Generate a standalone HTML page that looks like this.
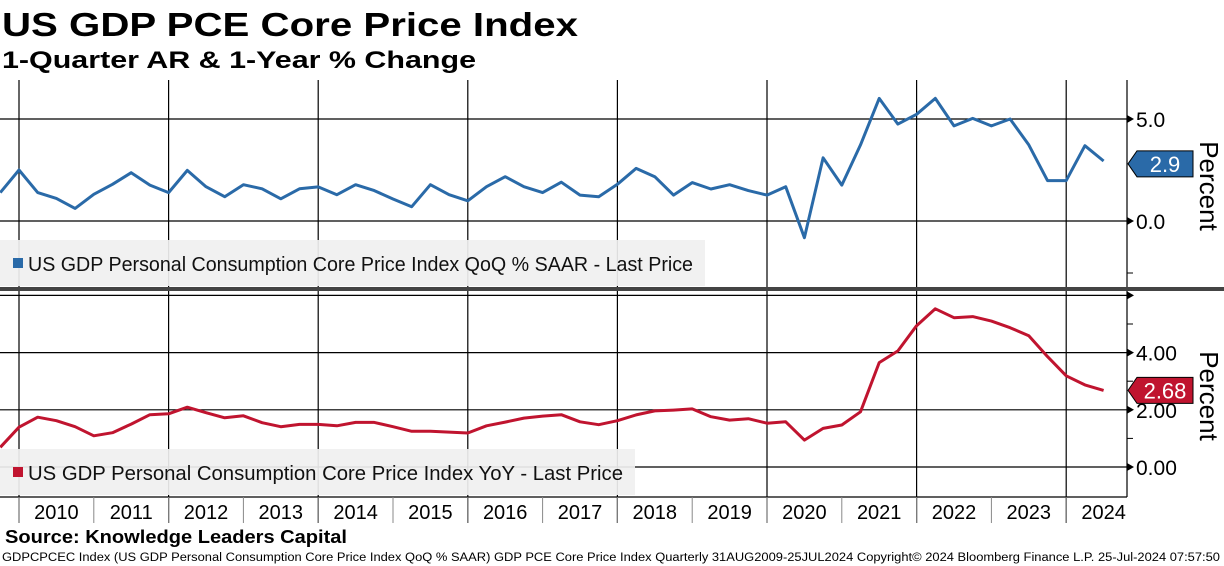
<!DOCTYPE html>
<html><head><meta charset="utf-8"><style>
html,body{margin:0;padding:0;background:#fff;}
svg{display:block;font-family:"Liberation Sans","DejaVu Sans",sans-serif;}
</style></head><body>
<svg id="chart" width="1224" height="566" viewBox="0 0 1224 566" xmlns="http://www.w3.org/2000/svg">
<text x="2" y="36" font-size="33" font-weight="bold" textLength="576" lengthAdjust="spacingAndGlyphs">US GDP PCE Core Price Index</text>
<text x="2" y="68" font-size="24" font-weight="bold" textLength="474" lengthAdjust="spacingAndGlyphs">1-Quarter AR &amp; 1-Year % Change</text>
<g id="grid"></g>
<g id="legends"></g>
<g id="series"></g>
<g id="axes"></g>
<text x="5" y="543" font-size="18" font-weight="bold" textLength="342" lengthAdjust="spacingAndGlyphs">Source: Knowledge Leaders Capital</text>
<text x="2" y="561" font-size="11.5" textLength="1218" lengthAdjust="spacingAndGlyphs">GDPCPCEC Index (US GDP Personal Consumption Core Price Index QoQ % SAAR) GDP PCE Core Price Index  Quarterly 31AUG2009-25JUL2024  Copyright© 2024 Bloomberg Finance L.P.  25-Jul-2024 07:57:50</text>
</svg>
<script>
// Quarterly data, Q3 2009 .. Q2 2024
const startYear = 2009.75;
const qoqValues = [1.39,2.5,1.39,1.11,0.62,1.31,1.8,2.37,1.76,1.39,2.48,1.68,1.19,1.78,1.58,1.09,1.58,1.67,1.29,1.78,1.49,1.08,0.70,1.78,1.29,0.99,1.68,2.17,1.68,1.39,1.9,1.27,1.19,1.8,2.58,2.17,1.27,1.88,1.57,1.78,1.49,1.27,1.68,-0.82,3.1,1.76,3.73,6.01,4.75,5.23,6.01,4.66,5.03,4.66,5.0,3.73,1.98,1.98,3.69,2.94];
const yoyValues = [0.69,1.39,1.74,1.62,1.41,1.09,1.2,1.5,1.83,1.86,2.09,1.9,1.72,1.79,1.55,1.41,1.49,1.49,1.44,1.56,1.56,1.41,1.25,1.25,1.22,1.19,1.44,1.57,1.71,1.78,1.83,1.58,1.48,1.62,1.82,1.96,1.99,2.03,1.76,1.64,1.69,1.53,1.58,0.94,1.35,1.47,1.93,3.65,4.06,4.94,5.53,5.22,5.26,5.1,4.87,4.59,3.86,3.19,2.87,2.68];
const years = [2010,2011,2012,2013,2014,2015,2016,2017,2018,2019,2020,2021,2022,2023,2024];
const topTicks = ["0.0","5.0"];
const topTickVals = [0,5];
const botTickLabels = ["0.00","2.00","4.00"];
const botTickVals = [0,2,4];
const lastQoq = "2.9";
const lastYoy = "2.68";

const NS="http://www.w3.org/2000/svg";
const svg=document.getElementById('chart');
function mk(tag,attrs,parent,text){const e=document.createElementNS(NS,tag);for(const k in attrs)e.setAttribute(k,attrs[k]);if(text!==undefined)e.textContent=text;(parent||svg).appendChild(e);return e;}
const X0=19, YW=74.8, AXR=1127;
const xT=t=>X0+(t-2010)*YW;
function xIdx(i){return xT(startYear)+i*(YW/4);}
const yTop=v=>221-v*20.4;
const yBot=v=>467-v*28.6;
const G=document.getElementById('grid'),L=document.getElementById('legends'),S=document.getElementById('series'),A=document.getElementById('axes');

for(let y=2010;y<=2024;y+=2){
  const x=xT(y);
  let l=mk('line',{x1:x,y1:80,x2:x,y2:523,stroke:'#000','stroke-width':1.2},G);
  
  
}
topTickVals.forEach(v=>{let l=mk('line',{x1:0,y1:yTop(v),x2:AXR,y2:yTop(v),stroke:'#000','stroke-width':1.2},G);
  
  });
[0,2,4,6].forEach(v=>{let l=mk('line',{x1:0,y1:yBot(v),x2:AXR,y2:yBot(v),stroke:'#000','stroke-width':1.2},G);
  
  });

function legend(y,w,color,txt,name){
  const g=mk('g',{},L);
  
  
  mk('rect',{x:0,y:y,width:w,height:46,fill:'#f0f0f0','fill-opacity':0.92},g);
  mk('rect',{x:13,y:y+18,width:10,height:10,fill:color},g);
  mk('text',{x:28,y:y+31,'font-size':20,fill:'#111',textLength:w-40,lengthAdjust:'spacingAndGlyphs'},g,txt);
}
legend(240,705,'#2a6aa8','US GDP Personal Consumption Core Price Index QoQ % SAAR - Last Price','legend-qoq');
legend(449,635,'#c0142f','US GDP Personal Consumption Core Price Index YoY - Last Price','legend-yoy');

function line(vals,yf,color,name){
  const d=vals.map((v,i)=>(i?'L':'M')+xIdx(i).toFixed(1)+','+yf(v).toFixed(1)).join('');
  const p=mk('path',{d:d,fill:'none',stroke:color,'stroke-width':3,'stroke-linejoin':'round'},S);
  
  
}
line(qoqValues,yTop,'#2a6aa8','qoq-line');
line(yoyValues,yBot,'#c0142f','yoy-line');

let sep=mk('rect',{x:0,y:287,width:1224,height:4,fill:'#444'},A);



mk('line',{x1:AXR,y1:80,x2:AXR,y2:287,stroke:'#000','stroke-width':1.2},A);
mk('line',{x1:AXR,y1:291,x2:AXR,y2:497,stroke:'#000','stroke-width':1.2},A);
mk('line',{x1:AXR,y1:273,x2:AXR+6,y2:273,stroke:'#000'},A);
[1,3,5].forEach(v=>mk('line',{x1:AXR,y1:yBot(v),x2:AXR+6,y2:yBot(v),stroke:'#000'},A));
function arrow(y){mk('path',{d:`M${AXR},${y-4}L${AXR+7},${y}L${AXR},${y+4}Z`,fill:'#000'},A);}
topTickVals.forEach((v,i)=>{arrow(yTop(v));
  const t=mk('text',{x:AXR+9,y:yTop(v)+8,'font-size':21},A,topTicks[i]);
  
  });
arrow(yBot(6));
botTickVals.forEach((v,i)=>{arrow(yBot(v));
  const t=mk('text',{x:AXR+9,y:yBot(v)+8,'font-size':21},A,botTickLabels[i]);
  
  });
[[186,'top-y-axis-title'],[396,'bottom-y-axis-title']].forEach(([cy,n])=>{
  const t=mk('text',{x:1207,y:cy,'font-size':26,'text-anchor':'middle',transform:`rotate(90 1207 ${cy})`,'dominant-baseline':'middle'},A,'Percent');
  
  });
function tag(y,color,txt,w,name){
  const g=mk('g',{},A);
  
  
  mk('path',{d:`M${AXR+1},${y}L${AXR+10},${y-13}L${AXR+10+w},${y-13}L${AXR+10+w},${y+13}L${AXR+10},${y+13}Z`,fill:color,stroke:'#000','stroke-width':1},g);
  mk('text',{x:AXR+10+w/2,y:y+8,'font-size':22,fill:'#fff','text-anchor':'middle'},g,txt);
}
tag(yTop(parseFloat(lastQoq))+2,'#2a6aa8',lastQoq,56,'qoq-last-price-tag');
tag(yBot(parseFloat(lastYoy)),'#c0142f',lastYoy,56,'yoy-last-price-tag');

mk('line',{x1:0,y1:497,x2:AXR,y2:497,stroke:'#000','stroke-width':1.2},A);
years.forEach(y=>{
  mk('line',{x1:xT(y),y1:497,x2:xT(y),y2:523,stroke:'#888'},A);
  const t=mk('text',{x:xT(y)+YW/2,y:519,'font-size':20,'text-anchor':'middle'},A,String(y));
  
  
});
</script>
</body></html>
